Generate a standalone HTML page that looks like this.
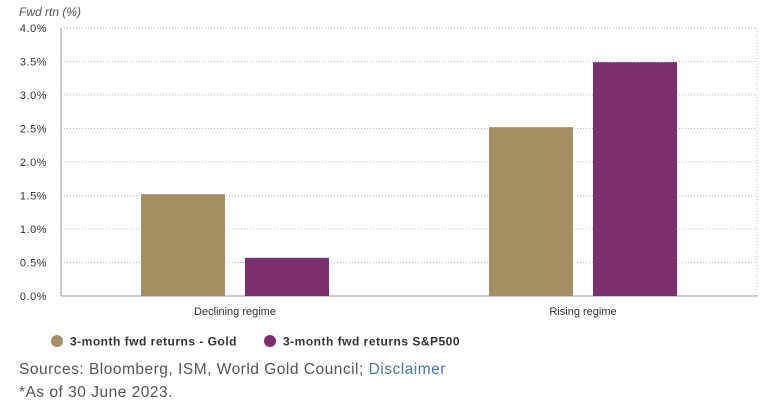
<!DOCTYPE html>
<html><head><meta charset="utf-8"><style>
body{margin:0;background:#fff;width:772px;height:406px;overflow:hidden;font-family:"Liberation Sans",sans-serif}
svg{position:absolute;left:0;top:0}
.src{position:absolute;left:19px;font-size:15.5px;color:#555;letter-spacing:0.5px}
</style></head><body>
<svg id="c" width="772" height="406"></svg>
<div class="src" style="top:361px">Sources: Bloomberg, ISM, World Gold Council; <span style="color:#4a76a8">Disclaimer</span></div>
<div class="src" style="top:384px">*As of 30 June 2023.</div>
<script>
const categories=["Declining regime","Rising regime"];
const goldValues=[1.52,2.52];
const spValues=[0.57,3.49];
const ticks=[0,0.5,1,1.5,2,2.5,3,3.5,4];
const tickLabels=["0.0%","0.5%","1.0%","1.5%","2.0%","2.5%","3.0%","3.5%","4.0%"];
const seriesNames=["3-month fwd returns - Gold","3-month fwd returns S&P500"];
const colors=["#a49063","#7b2f6e"];
const svg=document.getElementById('c');const NS="http://www.w3.org/2000/svg";
const L=61,R=757,T=28,B=296;
const y=v=>B-(v/4)*(B-T);
const bandW=(R-L)/categories.length;
const xc=i=>L+bandW*(i+0.5);
function mk(t,a,txt){const e=document.createElementNS(NS,t);for(const k in a)e.setAttribute(k,a[k]);if(txt!=null)e.textContent=txt;svg.appendChild(e);return e;}
let e=mk('text',{x:19,y:16,'font-size':12,'font-style':'italic',fill:'#555'},'Fwd rtn (%)');

ticks.forEach((t,i)=>{
 if(t>0){const g=mk('line',{x1:L,x2:R,y1:y(t),y2:y(t),stroke:'#bbb','stroke-dasharray':'1,2'});
 }
 const l=mk('text',{x:47,y:y(t)+4,'font-size':11,fill:'#333','text-anchor':'end','letter-spacing':'0.5'},tickLabels[i]);
 
});
e=mk('line',{x1:R,x2:R,y1:T,y2:B,stroke:'#bbb','stroke-dasharray':'1,2'});

e=mk('line',{x1:L,x2:L,y1:T,y2:B,stroke:'#999'});

e=mk('line',{x1:L,x2:R,y1:B,y2:B,stroke:'#999'});

const bw=84,gap=20;
categories.forEach((c,i)=>{
 [goldValues[i],spValues[i]].forEach((v,s)=>{
  const x=xc(i)+(s===0?-gap/2-bw:gap/2);
  const b=mk('rect',{x:x,y:y(v),width:bw,height:B-y(v),fill:colors[s]});
  
  
 });
 const t=mk('text',{x:xc(i),y:315,'font-size':11,fill:'#333','text-anchor':'middle'},c);
 
});
const lx=[57,270];
seriesNames.forEach((n,s)=>{
 const c=mk('circle',{cx:lx[s],cy:341,r:6,fill:colors[s]});
 
 const t=mk('text',{x:lx[s]+13,y:345.5,'font-size':12,'font-weight':'bold',fill:'#333','letter-spacing':'0.5'},n);
 
});
</script>
</body></html>
